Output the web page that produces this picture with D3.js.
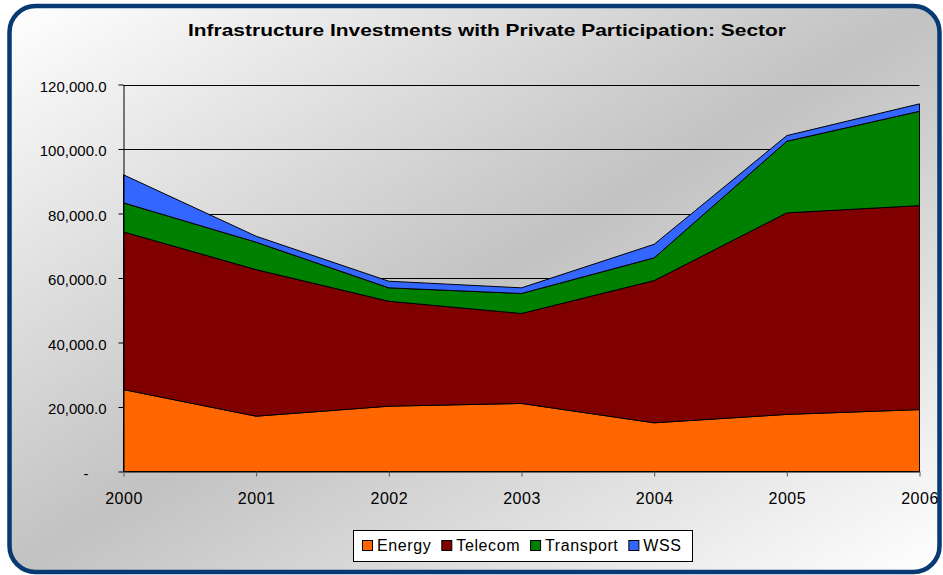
<!DOCTYPE html>
<html>
<head>
<meta charset="utf-8">
<script src="https://cdnjs.cloudflare.com/ajax/libs/d3/7.8.5/d3.min.js"></script>
<style>
  html, body { margin: 0; padding: 0; background: #ffffff; }
  svg { display: block; font-family: "Liberation Sans", Arial, sans-serif; }
</style>
</head>
<body>
<script>
const width = 943;
const height = 575;

// data (US$ millions)
const years = ['2000', '2001', '2002', '2003', '2004', '2005', '2006'];
const seriesNames = ['Energy', 'Telecom', 'Transport', 'WSS'];
const energy    = [25400, 17150, 20250, 21100, 15100, 17700, 19200];
const telecom   = [48900, 45450, 32550, 27900, 44100, 62500, 63250];
const transport = [ 9000,  8500,  4150,  6200,  7050, 22200, 29250];
const wss       = [ 8700,  1850,  2050,  1750,  4200,  1750,  2300];
const seriesColors = ['#ff6600', '#800000', '#008000', '#3366ff'];
const yTicks = [0, 20000, 40000, 60000, 80000, 100000, 120000];

// table for d3.stack
const table = years.map((y, i) => ({
    year: y,
    Energy: energy[i],
    Telecom: telecom[i],
    Transport: transport[i],
    WSS: wss[i]
}));

const svg = d3.select('body')
    .append('svg')
        .attr('width', width)
        .attr('height', height);

// background gradient
const defs = svg.append('defs');
const grad = defs.append('linearGradient')
    .attr('id', 'bg')
    .attr('x1', 0).attr('y1', 0)
    .attr('x2', 1).attr('y2', 1);
grad.append('stop').attr('offset', 0).attr('stop-color', '#ffffff');
grad.append('stop').attr('offset', 0.5).attr('stop-color', '#c2c2c2');
grad.append('stop').attr('offset', 1).attr('stop-color', '#ffffff');

svg.append('rect')
    .attr('x', 9.5)
    .attr('y', 6)
    .attr('width', 930)
    .attr('height', 566)
    .attr('rx', 26)
    .attr('fill', 'url(#bg)')
    .attr('stroke', '#073a72')
    .attr('stroke-width', 4.5);

//scales
const xScale = d3.scalePoint()
    .domain(years)
    .range([123.5, 919.5]);
const yScale = d3.scaleLinear()
    .domain([0, 120000])
    .range([471.5, 84.5]);

//gridlines
svg.append('g')
    .selectAll('line')
    .data(yTicks.slice(1))
    .enter()
    .append('line')
        .attr('x1', xScale.range()[0])
        .attr('x2', xScale.range()[1])
        .attr('y1', d => Math.round(yScale(d)) + 0.5)
        .attr('y2', d => Math.round(yScale(d)) + 0.5)
        .attr('stroke', '#000')
        .attr('stroke-width', 1);

//stacked areas
const stack = d3.stack().keys(seriesNames);
const layers = stack(table);
const area = d3.area()
    .x(d => xScale(d.data.year))
    .y0(d => yScale(d[0]))
    .y1(d => yScale(d[1]));

svg.append('g')
    .selectAll('path')
    .data(layers)
    .enter()
    .append('path')
        .attr('d', area)
        .attr('fill', (d, i) => seriesColors[i])
        .attr('stroke', '#000')
        .attr('stroke-width', 1)
        .attr('stroke-linejoin', 'round');

//y axis
const yAxis = d3.axisLeft(yScale)
    .tickValues(yTicks)
    .tickSize(5)
    .tickSizeOuter(0)
    .tickFormat(d => d === 0 ? '-' : d3.format(',.1f')(d));
const gy = svg.append('g')
    .attr('transform', 'translate(123.5, 0)')
    .call(yAxis);
gy.select('.domain').attr('stroke', '#000');
gy.selectAll('.tick line').attr('stroke', '#000');
gy.selectAll('.tick text')
    .attr('x', d => d === 0 ? -35 : -17)
    .attr('dy', '0.45em')
    .attr('fill', '#000')
    .style('font-size', '15px')
    .style('font-family', '"Liberation Sans", Arial, sans-serif');

//x axis
const xAxis = d3.axisBottom(xScale)
    .tickSize(5)
    .tickSizeOuter(0);
const gx = svg.append('g')
    .attr('transform', 'translate(0, 471.5)')
    .call(xAxis);
gx.select('.domain').attr('stroke', '#000');
gx.selectAll('.tick line').attr('stroke', '#555');
gx.selectAll('.tick text')
    .attr('y', 20)
    .attr('dy', '0.75em')
    .attr('fill', '#000')
    .style('font-size', '16px')
    .style('letter-spacing', '0.5px')
    .style('font-family', '"Liberation Sans", Arial, sans-serif');

//title
svg.append('text')
    .attr('x', 487)
    .attr('y', 36)
    .attr('text-anchor', 'middle')
    .attr('textLength', 598)
    .attr('lengthAdjust', 'spacingAndGlyphs')
    .style('font-size', '17px')
    .style('font-weight', 'bold')
    .text('Infrastructure Investments with Private Participation: Sector');

//legend
const legend = svg.append('g');
legend.append('rect')
    .attr('x', 353.5)
    .attr('y', 530.5)
    .attr('width', 339)
    .attr('height', 31)
    .attr('fill', '#fff')
    .attr('stroke', '#000')
    .attr('stroke-width', 1);

let lx = 362;
seriesNames.forEach((name, i) => {
    legend.append('rect')
        .attr('x', lx + 0.5)
        .attr('y', 540.5)
        .attr('width', 10)
        .attr('height', 10)
        .attr('fill', seriesColors[i])
        .attr('stroke', '#000');
    const t = legend.append('text')
        .attr('x', lx + 15)
        .attr('y', 551)
        .style('font-size', '16px')
        .style('letter-spacing', '0.6px')
        .text(name);
    lx += 15 + t.node().getComputedTextLength() + 10;
});
</script>
</body>
</html>
